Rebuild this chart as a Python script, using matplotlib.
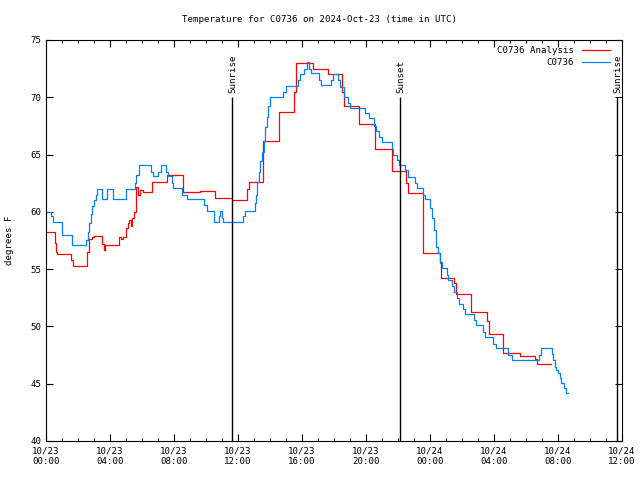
import matplotlib
matplotlib.use("Agg")
import matplotlib.pyplot as plt
from matplotlib.ticker import MultipleLocator

# ---- data (hours since 2024-10-23 00:00 UTC, degrees F) ----
obs_t = [0.0, 0.3, 0.45, 1.0, 1.6, 2.5, 2.6, 2.7, 2.8, 2.9, 3.0, 3.1, 3.2,
         3.5, 3.8, 4.2, 5.0, 5.55, 5.65, 5.8, 6.54, 6.7, 7.0, 7.16, 7.5, 7.6,
         7.85, 7.95, 8.5, 8.8, 9.875, 10.08, 10.5, 10.8, 10.85, 11.0, 11.04,
         12.33, 12.45, 13.06, 13.1, 13.2, 13.3, 13.4, 13.5, 13.6, 13.7, 13.8,
         13.9, 14.0, 14.83, 15.0, 15.77, 15.9, 16.15, 16.3, 16.45, 16.55,
         17.05, 17.2, 17.8, 17.95, 18.25, 18.35, 18.6, 18.9, 19.0, 19.94,
         20.2, 20.5, 20.6, 20.8, 21.0, 21.6, 21.67, 21.95, 22.08, 22.44,
         22.65, 23.06, 23.2, 23.54, 23.7, 24.0, 24.15, 24.25, 24.35, 24.4,
         24.5, 24.62, 24.72, 25.04, 25.1, 25.4, 25.5, 25.7, 25.8, 26.08,
         26.2, 26.75, 26.9, 27.33, 27.44, 27.96, 28.1, 28.9, 29.1, 30.8,
         30.95, 31.6, 31.7, 31.8, 31.9, 32.0, 32.1, 32.2, 32.4, 32.5, 32.65]
obs_v = [60.0, 59.6, 59.1, 58.0, 57.1, 57.5, 58.2, 59.0, 59.8, 60.5, 61.0, 61.5, 62.0,
         61.1, 62.0, 61.1, 62.0, 62.5, 63.2, 64.1, 63.5, 63.1, 63.5, 64.1, 63.5, 63.1,
         62.5, 62.05, 61.5, 61.1, 60.6, 60.1, 59.14, 59.6, 60.07, 59.5, 59.14,
         59.6, 60.07, 60.8, 61.5, 62.6, 63.5, 64.4, 65.2, 66.2, 67.4, 68.3,
         69.2, 70.05, 70.5, 71.0, 71.5, 72.0, 72.5, 73.05, 72.5, 72.1,
         71.5, 71.07, 71.5, 72.0, 71.5, 70.9, 70.05, 69.5, 69.1, 68.6,
         68.16, 67.5, 67.06, 66.5, 66.07, 65.5, 65.0, 64.5, 64.09, 63.65,
         63.07, 62.5, 62.05, 61.5, 61.1, 60.3, 59.5, 58.4, 57.6, 56.96,
         56.4, 55.6, 55.07, 54.5, 54.05, 53.5, 53.03, 52.5, 52.0, 51.5,
         51.08, 50.6, 50.12, 49.5, 49.05, 48.5, 48.09, 47.5, 47.07, 47.5,
         48.09, 47.6, 47.07, 46.5, 46.2, 45.9, 45.5, 45.03, 44.6, 44.16, 44.16]

ana_t = [0.0, 0.54, 0.65, 0.71, 1.58, 1.7, 2.58, 2.7, 2.85, 3.0, 3.5, 3.6, 3.7,
         4.58, 4.7, 4.8, 5.0, 5.1, 5.2, 5.3, 5.4, 5.5, 5.6, 5.65, 5.75, 5.85,
         6.04, 6.6, 7.58, 8.58, 9.6, 10.58, 11.6, 12.58, 12.7, 13.58, 14.58,
         15.5, 15.6, 16.67, 17.65, 18.5, 18.6, 19.58, 20.56, 21.6, 22.5, 22.6,
         23.58, 24.6, 24.67, 25.5, 25.65, 26.58, 27.55, 27.7, 28.58, 29.6,
         30.56, 30.7, 31.54]
ana_v = [58.24, 57.3, 56.5, 56.3, 55.8, 55.27, 56.5, 57.6, 57.8, 57.9, 57.2, 56.7, 57.1,
         57.8, 57.6, 57.8, 58.56, 59.0, 59.3, 58.8, 59.5, 60.0, 61.0, 62.2, 61.5, 61.9,
         61.7, 62.6, 63.2, 61.7, 61.8, 61.18, 61.0, 62.0, 62.6, 66.2, 68.7,
         70.5, 73.0, 72.5, 72.0, 70.5, 69.2, 67.7, 65.46, 63.55, 62.5, 61.67,
         56.38, 55.5, 54.2, 53.8, 52.8, 51.3, 50.5, 49.34, 47.65, 47.42,
         47.2, 46.69, 46.69]

sun_t = [11.63, 22.13, 35.67]
sun_labels = ["Sunrise", "Sunset", "Sunrise"]

xtick_pos = [0, 4, 8, 12, 16, 20, 24, 28, 32, 36]
xtick_labels = ["10/23\n00:00", "10/23\n04:00", "10/23\n08:00", "10/23\n12:00",
                "10/23\n16:00", "10/23\n20:00", "10/24\n00:00", "10/24\n04:00",
                "10/24\n08:00", "10/24\n12:00"]

FONT = "DejaVu Sans Mono"
FS = 6.6
plt.rcParams['font.family'] = FONT
plt.rcParams['font.size'] = FS

fig = plt.figure(figsize=(6.4, 4.8), dpi=100)
ax = fig.add_axes([46/640, 1-441/480, 576/640, 401/480])

ax.plot(ana_t, ana_v, color="#ff0000", lw=0.9, drawstyle="steps-post",
        label="C0736 Analysis")
ax.plot(obs_t, obs_v, color="#0080ff", lw=0.9, drawstyle="steps-post",
        label="C0736")

for t, lab in zip(sun_t, sun_labels):
    ax.vlines(t, 40, 70, color="black", lw=1.0)
    ax.text(t + 0.05, 70.4, lab, rotation=90, ha="center", va="bottom",
            fontsize=FS)

ax.set_xlim(0, 36)
ax.set_ylim(40, 75)
ax.set_xticks(xtick_pos)
ax.set_xticklabels(xtick_labels)
ax.xaxis.set_minor_locator(MultipleLocator(1))
ax.yaxis.set_major_locator(MultipleLocator(5))
ax.tick_params(which="both", direction="in", top=True, right=True, width=0.8)
ax.tick_params(which="major", length=5, pad=4)
ax.tick_params(which="minor", length=2.5)
ax.tick_params(axis="y", pad=3)
for s in ax.spines.values():
    s.set_linewidth(0.8)

ax.set_ylabel("degrees F", fontsize=FS, labelpad=12)
fig.text(0.5, 1 - 19/480, "Temperature for C0736 on 2024-Oct-23 (time in UTC)",
         ha="center", va="center", fontsize=FS)

leg = ax.legend(loc="upper right", bbox_to_anchor=(0.99, 1.0), frameon=False,
                markerfirst=False, handlelength=3.05, handletextpad=0.85,
                labelspacing=0.3, fontsize=FS, borderaxespad=0.3)

fig.savefig("out.png", dpi=100)
